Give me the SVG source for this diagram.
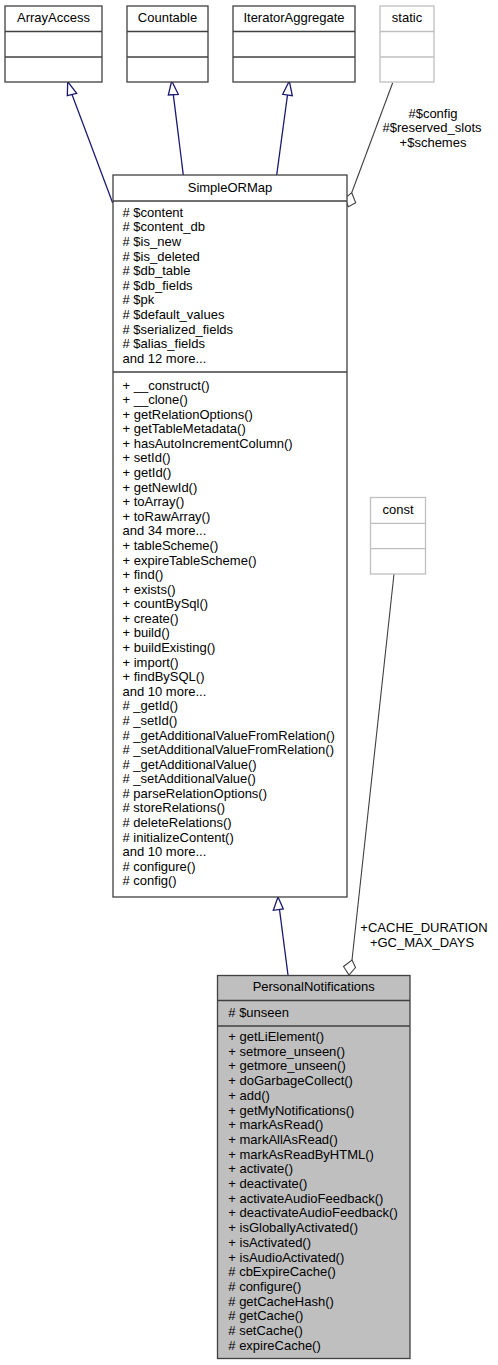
<svg xmlns="http://www.w3.org/2000/svg" width="498" height="1365" viewBox="0 0 498 1365">
<style>
text{font-family:"Liberation Sans",Arial,sans-serif;font-size:13px;fill:#000}
.c{text-anchor:middle}
.box{fill:#fff;stroke:#404040;stroke-width:1.3}
.lbox{fill:#fff;stroke:#bfbfbf;stroke-width:1.3}
.gbox{fill:#bfbfbf;stroke:#404040;stroke-width:1.3}
.dv{stroke:#404040;stroke-width:1.3}
.ldv{stroke:#bfbfbf;stroke-width:1.3}
.inh{stroke:#191970;stroke-width:1.3;fill:none}
.tri{fill:#fff;stroke:#191970;stroke-width:1.3}
.agg{stroke:#404040;stroke-width:1.1;fill:none}
.dia{fill:#fff;stroke:#404040;stroke-width:1.1}
</style>
<rect width="498" height="1365" fill="#fff"/>
<g id="connectors">
<line class="inh" x1="112.7" y1="203" x2="72" y2="94.5"/>
<polygon class="tri" points="67.7,81.7 67.3,95.7 76.7,93.3"/>
<line class="inh" x1="183.3" y1="175" x2="173.3" y2="94.6"/>
<polygon class="tri" points="171.7,81 168.3,95 178.3,94.3"/>
<line class="inh" x1="276.7" y1="175" x2="287.5" y2="95"/>
<polygon class="tri" points="289.3,81 282.7,94.3 292.3,95.7"/>
<line class="agg" x1="392.7" y1="82.7" x2="351.7" y2="192.7"/>
<polygon class="dia" points="351.7,192.7 355.7,202.7 348.3,206.7 345,198.3"/>
<line class="inh" x1="288" y1="975" x2="279.5" y2="909.5"/>
<polygon class="tri" points="278,897 273.3,910.3 283.3,909"/>
<line class="agg" x1="394" y1="574" x2="352" y2="960"/>
<polygon class="dia" points="352,960 355.5,967.5 349,975 343.5,966.5"/>
<text class="c" x="433" y="117.5">#$config</text>
<text class="c" x="432" y="132">#$reserved_slots</text>
<text class="c" x="433" y="147">+$schemes</text>
<text class="c" x="424" y="932">+CACHE_DURATION</text>
<text class="c" x="422" y="946.8">+GC_MAX_DAYS</text>
</g>
<g id="ArrayAccess">
<rect class="box" x="5" y="6" width="97" height="76"/>
<line class="dv" x1="5" y1="31.5" x2="102" y2="31.5"/>
<line class="dv" x1="5" y1="57" x2="102" y2="57"/>
<text class="c" x="53.5" y="21.5">ArrayAccess</text>
</g>
<g id="Countable">
<rect class="box" x="127" y="6" width="81" height="76"/>
<line class="dv" x1="127" y1="31.5" x2="208" y2="31.5"/>
<line class="dv" x1="127" y1="57" x2="208" y2="57"/>
<text class="c" x="167.5" y="21.5">Countable</text>
</g>
<g id="IteratorAggregate">
<rect class="box" x="233" y="6" width="122" height="76"/>
<line class="dv" x1="233" y1="31.5" x2="355" y2="31.5"/>
<line class="dv" x1="233" y1="57" x2="355" y2="57"/>
<text class="c" x="294" y="21.5">IteratorAggregate</text>
</g>
<g id="static">
<rect class="lbox" x="380" y="6" width="54" height="76"/>
<line class="ldv" x1="380" y1="31.5" x2="434" y2="31.5"/>
<line class="ldv" x1="380" y1="57" x2="434" y2="57"/>
<text class="c" x="407" y="21.5">static</text>
</g>
<g id="const">
<rect class="lbox" x="370.5" y="497.5" width="55" height="76.5"/>
<line class="ldv" x1="370.5" y1="523.3" x2="425.5" y2="523.3"/>
<line class="ldv" x1="370.5" y1="548.7" x2="425.5" y2="548.7"/>
<text class="c" x="398" y="514">const</text>
</g>
<g id="SimpleORMap">
<rect class="box" x="113" y="175" width="234" height="722"/>
<line class="dv" x1="113" y1="201" x2="347" y2="201"/>
<line class="dv" x1="113" y1="372" x2="347" y2="372"/>
<text class="c" x="230" y="192">SimpleORMap</text>
<text x="122.5" y="216.8"># $content</text>
<text x="122.5" y="231.4"># $content_db</text>
<text x="122.5" y="246"># $is_new</text>
<text x="122.5" y="260.6"># $is_deleted</text>
<text x="122.5" y="275.2"># $db_table</text>
<text x="122.5" y="289.8"># $db_fields</text>
<text x="122.5" y="304.4"># $pk</text>
<text x="122.5" y="319"># $default_values</text>
<text x="122.5" y="333.6"># $serialized_fields</text>
<text x="122.5" y="348.2"># $alias_fields</text>
<text x="122.5" y="362.8">and 12 more...</text>
<text x="122.5" y="389.5">+ __construct()</text>
<text x="122.5" y="404.1">+ __clone()</text>
<text x="122.5" y="418.7">+ getRelationOptions()</text>
<text x="122.5" y="433.2">+ getTableMetadata()</text>
<text x="122.5" y="447.8">+ hasAutoIncrementColumn()</text>
<text x="122.5" y="462.4">+ setId()</text>
<text x="122.5" y="477">+ getId()</text>
<text x="122.5" y="491.6">+ getNewId()</text>
<text x="122.5" y="506.2">+ toArray()</text>
<text x="122.5" y="520.7">+ toRawArray()</text>
<text x="122.5" y="535.3">and 34 more...</text>
<text x="122.5" y="549.9">+ tableScheme()</text>
<text x="122.5" y="564.5">+ expireTableScheme()</text>
<text x="122.5" y="579.1">+ find()</text>
<text x="122.5" y="593.6">+ exists()</text>
<text x="122.5" y="608.2">+ countBySql()</text>
<text x="122.5" y="622.8">+ create()</text>
<text x="122.5" y="637.4">+ build()</text>
<text x="122.5" y="652">+ buildExisting()</text>
<text x="122.5" y="666.5">+ import()</text>
<text x="122.5" y="681.1">+ findBySQL()</text>
<text x="122.5" y="695.7">and 10 more...</text>
<text x="122.5" y="710.3"># _getId()</text>
<text x="122.5" y="724.9"># _setId()</text>
<text x="122.5" y="739.5"># _getAdditionalValueFromRelation()</text>
<text x="122.5" y="754"># _setAdditionalValueFromRelation()</text>
<text x="122.5" y="768.6"># _getAdditionalValue()</text>
<text x="122.5" y="783.2"># _setAdditionalValue()</text>
<text x="122.5" y="797.8"># parseRelationOptions()</text>
<text x="122.5" y="812.4"># storeRelations()</text>
<text x="122.5" y="826.9"># deleteRelations()</text>
<text x="122.5" y="841.5"># initializeContent()</text>
<text x="122.5" y="856.1">and 10 more...</text>
<text x="122.5" y="870.7"># configure()</text>
<text x="122.5" y="885.3"># config()</text>
</g>
<g id="PersonalNotifications">
<rect class="gbox" x="217.5" y="975.5" width="192.5" height="383"/>
<line class="dv" x1="217.5" y1="1000.5" x2="410" y2="1000.5"/>
<line class="dv" x1="217.5" y1="1026" x2="410" y2="1026"/>
<text class="c" x="313.7" y="991">PersonalNotifications</text>
<text x="228.3" y="1017">#  $unseen</text>
<text x="228.3" y="1041">+ getLiElement()</text>
<text x="228.3" y="1055.7">+ setmore_unseen()</text>
<text x="228.3" y="1070.4">+ getmore_unseen()</text>
<text x="228.3" y="1085.1">+ doGarbageCollect()</text>
<text x="228.3" y="1099.8">+ add()</text>
<text x="228.3" y="1114.5">+ getMyNotifications()</text>
<text x="228.3" y="1129.2">+ markAsRead()</text>
<text x="228.3" y="1143.9">+ markAllAsRead()</text>
<text x="228.3" y="1158.6">+ markAsReadByHTML()</text>
<text x="228.3" y="1173.3">+ activate()</text>
<text x="228.3" y="1188">+ deactivate()</text>
<text x="228.3" y="1202.7">+ activateAudioFeedback()</text>
<text x="228.3" y="1217.4">+ deactivateAudioFeedback()</text>
<text x="228.3" y="1232.1">+ isGloballyActivated()</text>
<text x="228.3" y="1246.8">+ isActivated()</text>
<text x="228.3" y="1261.5">+ isAudioActivated()</text>
<text x="228.3" y="1276.2"># cbExpireCache()</text>
<text x="228.3" y="1290.9"># configure()</text>
<text x="228.3" y="1305.6"># getCacheHash()</text>
<text x="228.3" y="1320.3"># getCache()</text>
<text x="228.3" y="1335"># setCache()</text>
<text x="228.3" y="1349.7"># expireCache()</text>
</g>
</svg>
